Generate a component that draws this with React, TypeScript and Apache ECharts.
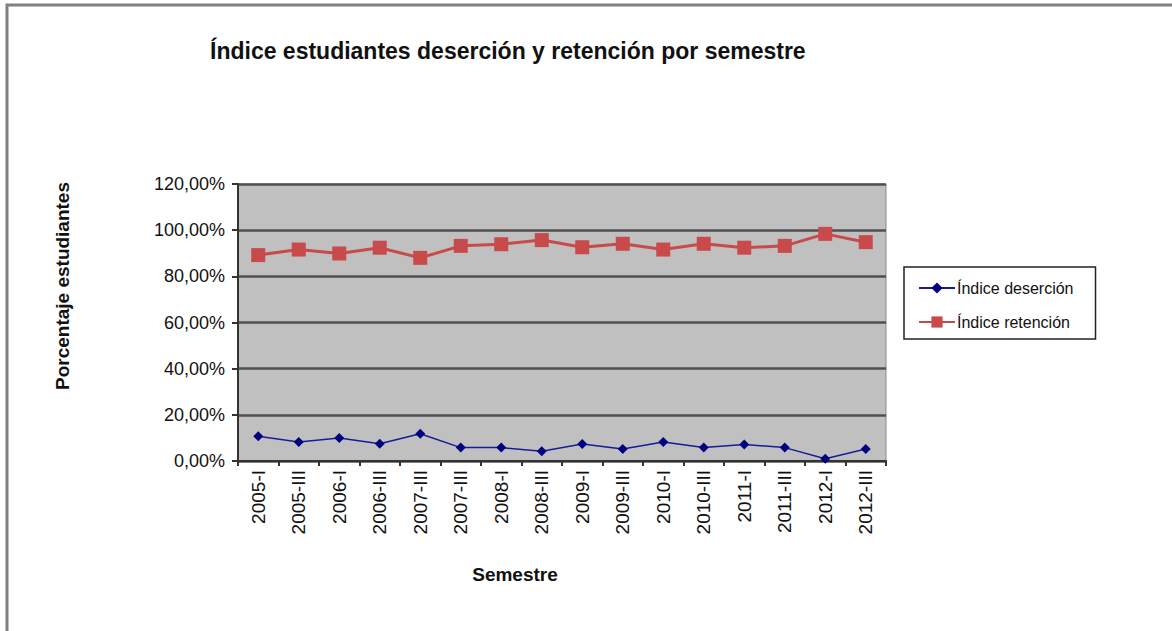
import React, { useEffect, useRef } from "react";
import * as echarts from "echarts";

const categories = ["2005-I", "2005-III", "2006-I", "2006-III", "2007-III", "2007-III", "2008-I", "2008-III", "2009-I", "2009-III", "2010-I", "2010-III", "2011-I", "2011-III", "2012-I", "2012-III"];
const desercion = [10.7, 8.2, 10.0, 7.5, 11.8, 5.8, 5.8, 4.2, 7.4, 5.2, 8.2, 5.8, 7.2, 5.8, 1.0, 5.2];
const retencion = [89.2, 91.6, 89.9, 92.4, 88.0, 93.2, 93.9, 95.7, 92.6, 94.1, 91.6, 94.1, 92.4, 93.2, 98.4, 94.8];
const yTicks = { min: 0, max: 120, interval: 20 };

const FONT = "'Liberation Sans', Arial, sans-serif";

export default function App() {
  const ref = useRef<HTMLDivElement>(null);
  useEffect(() => {
    document.body.style.margin = "0";
    const chart = echarts.init(ref.current!, null, { renderer: "svg" });
    chart.setOption({
      animation: false,
      backgroundColor: "#ffffff",
      textStyle: { fontFamily: FONT },
      title: {
        text: "Índice estudiantes deserción y retención por semestre",
        left: 205,
        top: 34,
        textStyle: { fontFamily: FONT, fontSize: 23, fontWeight: "bold", color: "#111" },
      },
      graphic: [
        {
          type: "rect",
          shape: { x: 7, y: 5, width: 1300, height: 800 },
          style: { fill: "none", stroke: "#808080", lineWidth: 3 },
          silent: true,
        },
        {
          type: "text",
          x: 62,
          y: 286,
          rotation: Math.PI / 2,
          style: {
            text: "Porcentaje estudiantes",
            fontFamily: FONT,
            fontSize: 19,
            fontWeight: "bold",
            fill: "#111",
            align: "center",
            verticalAlign: "middle",
          },
          silent: true,
        },
        {
          type: "text",
          x: 515,
          y: 574,
          style: {
            text: "Semestre",
            fontFamily: FONT,
            fontSize: 19,
            fontWeight: "bold",
            fill: "#111",
            align: "center",
            verticalAlign: "middle",
          },
          silent: true,
        },
      ],
      legend: {
        orient: "vertical",
        left: 904,
        top: 267,
        padding: [13, 22, 9, 14],
        itemGap: 18,
        itemWidth: 36,
        itemHeight: 14,
        backgroundColor: "#ffffff",
        borderColor: "#222",
        borderWidth: 1.5,
        textStyle: { fontFamily: FONT, fontSize: 16, color: "#111", padding: [0, 0, 0, -3] },
        data: ["Índice deserción", "Índice retención"],
      },
      grid: {
        left: 238,
        top: 184,
        width: 648,
        height: 277,
        show: true,
        backgroundColor: "#c0c0c0",
        borderColor: "#8a8a8a",
        borderWidth: 1,
        containLabel: false,
      },
      xAxis: {
        type: "category",
        data: categories,
        boundaryGap: true,
        axisLine: { show: true, lineStyle: { color: "#333", width: 2 } },
        axisTick: { show: true, alignWithLabel: false, length: 5, lineStyle: { color: "#333", width: 2 } },
        axisLabel: { rotate: 90, margin: 9, fontSize: 19, color: "#111", fontFamily: FONT, interval: 0 },
        splitLine: { show: false },
      },
      yAxis: {
        type: "value",
        min: yTicks.min,
        max: yTicks.max,
        interval: yTicks.interval,
        axisLine: { show: true, lineStyle: { color: "#333", width: 2 } },
        axisTick: { show: true, length: 6, lineStyle: { color: "#333", width: 2 } },
        axisLabel: {
          fontSize: 18,
          color: "#111",
          fontFamily: FONT,
          margin: 13,
          formatter: (v: number) => v.toFixed(2).replace(".", ",") + "%",
        },
        splitLine: { show: true, lineStyle: { color: "#505050", width: 2.5 } },
      },
      series: [
        {
          name: "Índice deserción",
          type: "line",
          data: desercion,
          symbol: "diamond",
          symbolSize: 10,
          color: "#000080",
          lineStyle: { color: "#1a1a9a", width: 1.5 },
          itemStyle: { color: "#000080" },
        },
        {
          name: "Índice retención",
          type: "line",
          data: retencion,
          symbol: "rect",
          symbolSize: 14,
          color: "#c84a4a",
          lineStyle: { color: "#c84a4a", width: 3 },
          itemStyle: { color: "#c84a4a" },
        },
      ],
    });
    return () => chart.dispose();
  }, []);
  return <div ref={ref} style={{ width: 1172, height: 631 }} />;
}
